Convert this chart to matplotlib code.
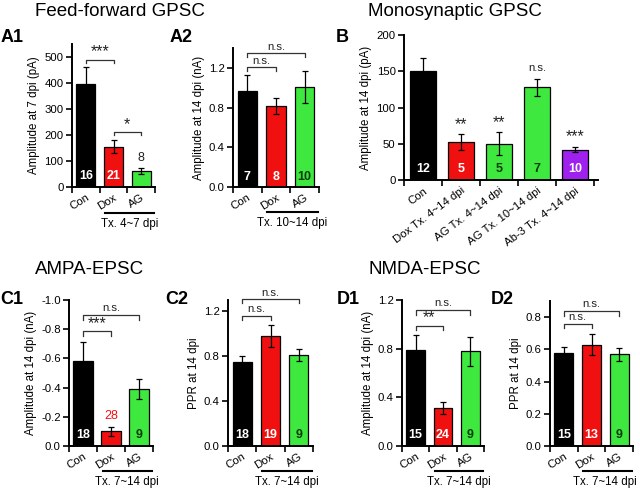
import matplotlib.pyplot as plt
import numpy as np
from matplotlib import transforms

plt.rcParams['font.family'] = ['Liberation Sans', 'DejaVu Sans']
plt.rcParams['axes.unicode_minus'] = False

# ---- data ----
groups3 = ['Con', 'Dox', 'AG']
groups_b = ['Con', 'Dox Tx. 4~14 dpi', 'AG Tx. 4~14 dpi', 'AG Tx. 10~14 dpi', 'Ab-3 Tx. 4~14 dpi']

a1_mean = [395, 155, 63]
a1_err = [65, 25, 12]
a1_n = ['16', '21', '8']

a2_mean = [0.97, 0.82, 1.01]
a2_err = [0.16, 0.08, 0.16]
a2_n = ['7', '8', '10']

b_mean = [151, 52, 50, 128, 42]
b_err = [17, 11, 16, 12, 4]
b_n = ['12', '5', '5', '7', '10']
b_sig = ['', '**', '**', 'n.s.', '***']

c1_mean = [-0.58, -0.10, -0.39]
c1_err = [0.13, 0.03, 0.07]
c1_n = ['18', '28', '9']

c2_mean = [0.75, 0.98, 0.81]
c2_err = [0.05, 0.10, 0.05]
c2_n = ['18', '19', '9']

d1_mean = [0.79, 0.31, 0.78]
d1_err = [0.12, 0.05, 0.12]
d1_n = ['15', '24', '9']

d2_mean = [0.58, 0.63, 0.57]
d2_err = [0.035, 0.065, 0.04]
d2_n = ['15', '13', '9']

BLACK = '#000000'
RED = '#f01010'
GREEN = '#3ee83e'
PURPLE = '#a020f0'
col3 = [BLACK, RED, GREEN]
col_b = [BLACK, RED, GREEN, GREEN, PURPLE]
ncol3 = ['white', 'white', '#0d3a0d']
ncol_b = ['white', 'white', '#0d3a0d', '#0d3a0d', 'white']

W, H = 640, 491
fig = plt.figure(figsize=(W / 100, H / 100), dpi=100)

TICK_FS = 8.2
LAB_FS = 8.3
SIG_FS = 8.2
STAR_FS = 11.5


def make_ax(x0, x1, ytop, ybot):
    return fig.add_axes([x0 / W, (H - ybot) / H, (x1 - x0) / W, (ybot - ytop) / H])


def ftext(x, y, s, **kw):
    fig.text(x / W, 1 - y / H, s, **kw)


def sig_text(ax, x, y, s, **kw):
    # stars are drawn bigger than "n.s."
    fs = STAR_FS if '*' in s else SIG_FS
    dy = 0 if '*' in s else 0
    ax.text(x, y, s, ha='center', va='bottom', fontsize=fs, color='#222222',
            clip_on=False, **kw)


def bars(ax, labels, mean, err, n, colors, ncolors, ylim, yticks, ylabel, fmt,
         width=0.68, inside=None, xmax=None, rot=32):
    x = np.arange(len(mean))
    ax.bar(x, mean, width=width, color=colors, edgecolor='black', linewidth=0.9, zorder=2)
    ax.errorbar(x, mean, yerr=err, fmt='none', ecolor='black', elinewidth=0.9,
                capsize=2.5, capthick=0.9, zorder=3)
    ax.set_xlim(-0.5, xmax if xmax is not None else len(mean) - 0.5)
    ax.set_ylim(*ylim)
    ax.set_yticks(yticks)
    ax.set_yticklabels([fmt.format(v) for v in yticks])
    ax.set_xticks(x)
    ax.set_xticklabels(labels, rotation=rot, ha='right', rotation_mode='anchor')
    ax.set_xticks(np.arange(len(mean) + 1) - 0.5, minor=True)
    ax.tick_params(axis='x', which='major', length=0, pad=4, labelsize=TICK_FS)
    ax.tick_params(axis='x', which='minor', length=4, width=1.2, direction='out')
    ax.tick_params(axis='y', length=4, width=1.2, labelsize=TICK_FS, pad=2)
    for s in ['top', 'right']:
        ax.spines[s].set_visible(False)
    for s in ['left', 'bottom']:
        ax.spines[s].set_linewidth(1.4)
    ax.set_ylabel(ylabel, fontsize=LAB_FS, labelpad=3)
    tr = transforms.blended_transform_factory(ax.transData, ax.transAxes)
    for i, lab in enumerate(n):
        if inside is not None and not inside[i]:
            continue
        ax.text(x[i], 0.075, lab, transform=tr, ha='center', va='center',
                fontsize=9, fontweight='bold', color=ncolors[i], zorder=4)
    return tr


def bracket(ax, x0, x1, y, leg, label):
    ax.plot([x0, x0, x1, x1], [y - leg, y, y, y - leg], color='#333333', lw=0.9,
            clip_on=False, zorder=5)
    off = leg * (0.0 if '*' in label else 0.3)
    sig_text(ax, (x0 + x1) / 2, y + off, label)


def treatment(ax, tr, x0, x1, label, yl, yt, xc=None):
    ax.plot([x0, x1], [yl, yl], color='black', lw=1.5, transform=tr, clip_on=False)
    if xc is None:
        xc = (x0 + x1) / 2
    ax.text(xc, yt, label, transform=tr, ha='center', va='center', fontsize=LAB_FS)


# ---- A1 ----
ax = make_ax(72, 155, 44, 187)
tr = bars(ax, groups3, a1_mean, a1_err, a1_n, col3, ncol3, (0, 550),
          [0, 100, 200, 300, 400, 500], 'Amplitude at 7 dpi (pA)', '{:.0f}',
          inside=[True, True, False])
ax.text(2, a1_mean[2] + a1_err[2] + 12, a1_n[2], ha='center', va='bottom',
        fontsize=9, color='#222222')
bracket(ax, 0, 1, 490, 12, '***')
bracket(ax, 1, 2, 212, 12, '*')
treatment(ax, tr, 0.7, 2.45, 'Tx. 4~7 dpi', -0.18, -0.26)

# ---- A2 ----
ax = make_ax(233, 319, 48, 187)
tr = bars(ax, groups3, a2_mean, a2_err, a2_n, col3, ncol3, (0, 1.4),
          [0.0, 0.4, 0.8, 1.2], 'Amplitude at 14 dpi (nA)', '{:.1f}')
bracket(ax, 0, 2, 1.35, 0.04, 'n.s.')
bracket(ax, 0, 1, 1.21, 0.04, 'n.s.')
treatment(ax, tr, 0.7, 2.45, 'Tx. 10~14 dpi', -0.18, -0.26)

# ---- B ----
ax = make_ax(404, 598, 35, 180)
bars(ax, groups_b, b_mean, b_err, b_n, col_b, ncol_b, (0, 200),
     [0, 50, 100, 150, 200], 'Amplitude at 14 dpi (pA)', '{:.0f}', width=0.67,
     xmax=4.6, rot=37)
for i, s in enumerate(b_sig):
    if s:
        sig_text(ax, i, b_mean[i] + b_err[i] + (3 if '*' in s else 8), s)

# ---- C1 ----
ax = make_ax(69, 153, 300, 446)
tr = bars(ax, groups3, c1_mean, c1_err, c1_n, col3, ncol3, (0, -1.0),
          [0.0, -0.2, -0.4, -0.6, -0.8, -1.0], 'Amplitude at 14 dpi (nA)', '{:.1f}',
          inside=[True, False, True])
ax.text(1, c1_mean[1] - c1_err[1] - 0.035, c1_n[1], ha='center', va='bottom',
        fontsize=9, color=RED)
bracket(ax, 0, 2, -0.90, -0.035, 'n.s.')
bracket(ax, 0, 1, -0.79, -0.035, '***')
treatment(ax, tr, 0.7, 2.45, 'Tx. 7~14 dpi', -0.17, -0.25)

# ---- C2 ----
ax = make_ax(228, 313, 300, 446)
tr = bars(ax, groups3, c2_mean, c2_err, c2_n, col3, ncol3, (0, 1.3),
          [0.0, 0.4, 0.8, 1.2], 'PPR at 14 dpi', '{:.1f}')
bracket(ax, 0, 2, 1.31, 0.04, 'n.s.')
bracket(ax, 0, 1, 1.16, 0.04, 'n.s.')
treatment(ax, tr, 0.7, 2.45, 'Tx. 7~14 dpi', -0.17, -0.25)

# ---- D1 ----
ax = make_ax(402, 484, 300, 446)
tr = bars(ax, groups3, d1_mean, d1_err, d1_n, col3, ncol3, (0, 1.2),
          [0.0, 0.4, 0.8, 1.2], 'Amplitude at 14 dpi (nA)', '{:.1f}')
bracket(ax, 0, 2, 1.12, 0.04, 'n.s.')
bracket(ax, 0, 1, 0.99, 0.04, '**')
treatment(ax, tr, 0.7, 2.45, 'Tx. 7~14 dpi', -0.17, -0.25)

# ---- D2 ----
ax = make_ax(550, 633, 301, 446)
tr = bars(ax, groups3, d2_mean, d2_err, d2_n, col3, ncol3, (0, 0.9),
          [0.0, 0.2, 0.4, 0.6, 0.8], 'PPR at 14 dpi', '{:.1f}')
bracket(ax, 0, 2, 0.84, 0.03, 'n.s.')
bracket(ax, 0, 1, 0.76, 0.03, 'n.s.')
treatment(ax, tr, 0.7, 2.45, 'Tx. 7~14 dpi', -0.17, -0.25, xc=1.5)

# ---- titles and panel letters ----
ftext(120, 12, 'Feed-forward GPSC', fontsize=13.5, ha='center', va='center')
ftext(455, 12, 'Monosynaptic GPSC', fontsize=13.5, ha='center', va='center')
ftext(90, 270, 'AMPA-EPSC', fontsize=13.5, ha='center', va='center')
ftext(425, 270, 'NMDA-EPSC', fontsize=13.5, ha='center', va='center')
for lab, x, y in [('A1', 12, 38), ('A2', 181, 38), ('B', 342, 38), ('C1', 12, 300),
                  ('C2', 177, 300), ('D1', 348, 300), ('D2', 502, 300)]:
    ftext(x, y, lab, fontsize=13, fontweight='bold', ha='center', va='center')

fig.savefig('out.png', dpi=100)
